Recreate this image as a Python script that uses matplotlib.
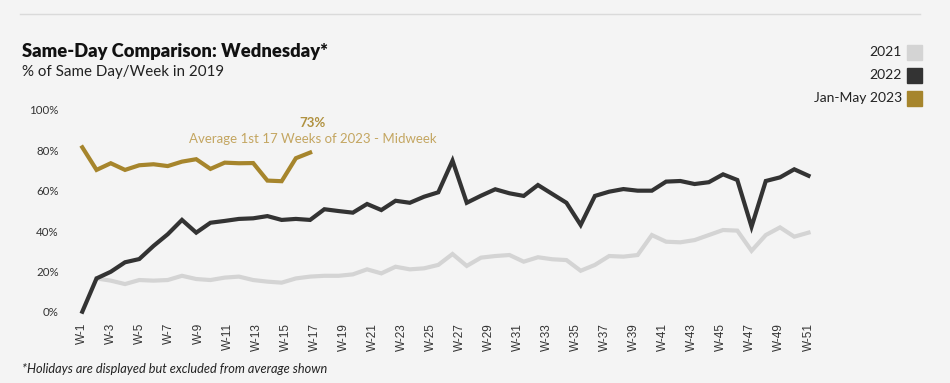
import numpy as np
import matplotlib
matplotlib.use("Agg")
from matplotlib import pyplot as plt
from matplotlib.patches import Rectangle

# weekly values, % of same day/week in 2019
weeks = ["W-" + str(i) for i in range(1, 53)]
y2021 = [None, 16.5, 15.4, 13.7, 15.7, 15.4, 15.7, 17.8, 16.2, 15.7, 16.9, 17.4, 15.7,
         14.9, 14.4, 16.5, 17.4, 17.8, 17.8, 18.5, 21.0, 19.0, 22.3, 21.0, 21.5, 23.2,
         28.6, 22.7, 26.8, 27.6, 28.1, 24.8, 27.0, 26.0, 25.6, 20.3, 23.2, 27.6, 27.3,
         28.1, 38.0, 34.7, 34.4, 35.5, 38.0, 40.5, 40.2, 30.2, 38.0, 41.8, 37.2, 39.2]
y2022 = [0, 16.5, 19.8, 24.5, 26.1, 32.6, 38.4, 45.5, 39.2, 44.1, 45.0, 46.0, 46.3,
         47.4, 45.5, 46.0, 45.5, 50.8, 49.9, 49.1, 53.4, 50.4, 55.0, 54.0, 57.0, 59.2,
         74.9, 54.0, 57.5, 60.7, 58.7, 57.4, 62.8, 58.4, 54.0, 43.0, 57.4, 59.5, 60.8,
         60.0, 60.0, 64.5, 64.8, 63.3, 64.2, 68.1, 65.3, 42.1, 64.8, 66.6, 70.6, 67.4]
y2023 = [81.5, 70.3, 73.6, 70.3, 72.6, 73.1, 72.2, 74.4, 75.6, 70.8, 73.9, 73.6, 73.7,
         65.0, 64.7, 76.1, 78.9]
series = ["2021", "2022", "Jan-May 2023"]
colors = ["#d4d4d4", "#333333", "#a6852c"]
yticks = [0, 20, 40, 60, 80, 100]
avg_label = "73%"
avg_text = "Average 1st 17 Weeks of 2023 - Midweek"

W, H = 950, 383
bg = "#f4f4f4"
fig = plt.figure(figsize=(W / 100, H / 100), dpi=100, facecolor=bg)

# plot area in pixels: x 82.3..808.5, y 110..311.7
ax = fig.add_axes([82.3 / W, 1 - 311.7 / H, 726.2 / W, 201.7 / H])
ax.set_facecolor(bg)

x = np.arange(len(weeks))
for vals, c in zip([y2021, y2022, y2023], colors):
    v = np.array([np.nan if a is None else a for a in vals], dtype=float)
    ax.plot(x[:len(v)], v, color=c, lw=3, solid_joinstyle="miter", clip_on=False)

ax.set_xlim(0, len(weeks) - 1)
ax.set_ylim(0, 100)
for s in ax.spines.values():
    s.set_visible(False)

ax.set_yticks(yticks)
ax.set_yticklabels([str(t) + "%" for t in yticks], family="Lato", fontsize=8.3, color="#333333")
ax.set_xticks(np.linspace(0, len(weeks) - 1, len(weeks[::2])))
ax.set_xticklabels(weeks[::2], rotation=90, family="Liberation Sans", fontsize=8.5, color="#333333")
ax.tick_params(axis="y", length=0, pad=17)
ax.tick_params(axis="x", length=0, pad=8)

# average annotation
ax.text(16.2, 93.6, avg_label, ha="center", va="center", family="Lato", fontweight="bold",
        fontsize=9.5, color="#b0913f")
ax.text(16.2, 85.6, avg_text, ha="center", va="center", family="Lato",
        fontsize=9.5, color="#c4a661")

# header
fig.add_artist(plt.Line2D([20 / W, 920 / W], [1 - 14 / H, 1 - 14 / H], color="#dadada", lw=1))
fig.text(22 / W, 1 - 52 / H, "Same-Day Comparison: Wednesday*", family="Lato", fontweight="heavy",
         fontsize=13.2, color="#111111", va="center")
fig.text(22 / W, 1 - 72 / H, "% of Same Day/Week in 2019", family="Lato",
         fontsize=10.9, color="#222222", va="center")

# legend
for i, (name, c) in enumerate(zip(series, colors)):
    yc = 52 + i * 23
    fig.add_artist(Rectangle((907 / W, 1 - (yc + 7.5) / H), 15 / W, 15 / H,
                             transform=fig.transFigure, color=c))
    fig.text(902 / W, 1 - yc / H, name, family="Lato", fontsize=10, color="#222222",
             ha="right", va="center")

fig.text(22 / W, 1 - 369 / H, "*Holidays are displayed but excluded from average shown",
         family="Lato", style="italic", fontsize=9.2, color="#222222", va="center")

fig.savefig("out.png", dpi=100, facecolor=bg)
